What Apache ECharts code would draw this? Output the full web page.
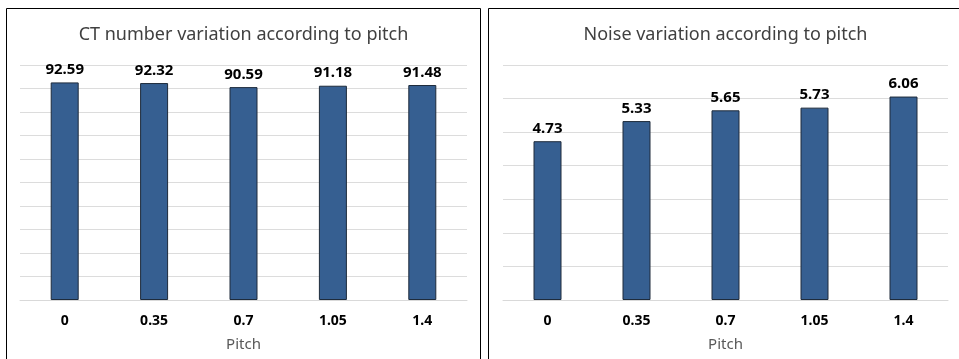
<!DOCTYPE html>
<html>
<head>
<meta charset="utf-8">
<script src="https://cdn.jsdelivr.net/npm/echarts@6/dist/echarts.min.js"></script>
<style>
html,body{margin:0;padding:0;background:#fff;}
#c{width:959px;height:359px;}
</style>
</head>
<body>
<div id="c"></div>
<script>
var categories = ['0', '0.35', '0.7', '1.05', '1.4'];
var ctValues = [92.59, 92.32, 90.59, 91.18, 91.48];
var noiseValues = [4.73, 5.33, 5.65, 5.73, 6.06];
var titles = ['CT number variation according to pitch', 'Noise variation according to pitch'];
var xAxisName = 'Pitch';

var chart = echarts.init(document.getElementById('c'), null, {renderer: 'canvas'});
var fontFam = '"Noto Sans", "Open Sans", sans-serif';

function xAx(gi) {
  return {
    type: 'category', gridIndex: gi, data: categories,
    axisLine: {lineStyle: {color: '#d9d9d9', width: 1}},
    axisTick: {show: false},
    axisLabel: {color: '#000', fontSize: 14, fontWeight: 'bold', margin: 14, fontFamily: fontFam},
    name: xAxisName, nameLocation: 'middle', nameGap: 37,
    nameTextStyle: {color: '#595959', fontSize: 15, fontFamily: fontFam}
  };
}
function yAx(gi, max, interval) {
  return {
    type: 'value', gridIndex: gi, min: 0, max: max, interval: interval,
    axisLabel: {show: false}, axisLine: {show: false}, axisTick: {show: false},
    splitLine: {lineStyle: {color: '#dcdcdc', width: 1}}
  };
}
function ser(gi, data) {
  return {
    type: 'bar', xAxisIndex: gi, yAxisIndex: gi, data: data, barWidth: 28,
    itemStyle: {color: '#365f91', borderColor: '#1e2b3b', borderWidth: 1},
    label: {show: true, position: 'top', distance: 5, color: '#000', fontSize: 15, fontWeight: 'bold', fontFamily: fontFam},
    silent: true
  };
}

chart.setOption({
  animation: false,
  title: [
    {text: titles[0], left: 243.5, textAlign: 'center', top: 26, padding: 0,
     textStyle: {color: '#404040', fontSize: 18, fontWeight: 'normal', fontFamily: fontFam}},
    {text: titles[1], left: 725.5, textAlign: 'center', top: 26, padding: 0,
     textStyle: {color: '#404040', fontSize: 18, fontWeight: 'normal', fontFamily: fontFam}}
  ],
  grid: [
    {left: 20, right: 492, top: 65, bottom: 59},
    {left: 503, right: 11, top: 65, bottom: 59}
  ],
  xAxis: [xAx(0), xAx(1)],
  yAxis: [yAx(0, 100, 10), yAx(1, 7, 1)],
  series: [ser(0, ctValues), ser(1, noiseValues)],
  graphic: [
    {type: 'polyline', shape: {points: [[6.5, 360], [6.5, 8.5], [480.5, 8.5], [480.5, 360]]},
     style: {stroke: '#000', lineWidth: 1, fill: null}, silent: true},
    {type: 'polyline', shape: {points: [[488.5, 360], [488.5, 8.5], [960, 8.5]]},
     style: {stroke: '#000', lineWidth: 1, fill: null}, silent: true}
  ]
});
</script>
</body>
</html>
